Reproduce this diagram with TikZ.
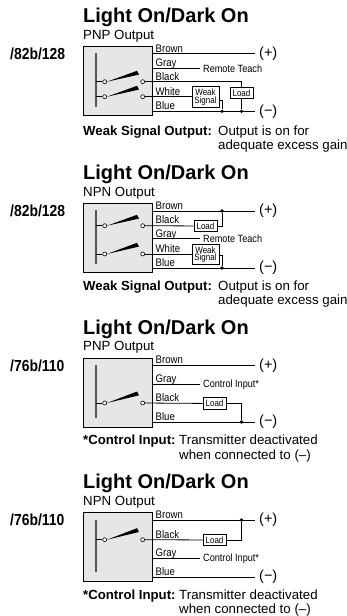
\documentclass[tikz,border=0pt]{standalone}
\usepackage{fontspec}
\setmainfont{Liberation Sans}
\newfontfamily\condfont[FakeStretch=0.87]{Liberation Sans}
\usetikzlibrary{positioning}
\definecolor{boxgray}{HTML}{E6E6E6}
\definecolor{bargray}{HTML}{555555}

\begin{document}
\begin{tikzpicture}[
    x=1pt, y=-1pt,
    title/.style={anchor=base west, inner sep=0, font=\fontsize{20}{20}\selectfont\bfseries},
    subtitle/.style={anchor=base west, inner sep=0, font=\fontsize{13.3}{13.3}\selectfont},
    code/.style={anchor=base west, inner sep=0, font=\condfont\fontsize{16}{16}\selectfont\bfseries},
    sensor/.style={draw, line width=1.2pt, fill=boxgray, anchor=north west, inner sep=0, minimum width=69pt, minimum height=69pt},
    bar/.style={bargray, line width=1.3pt},
    wire/.style={line width=0.8pt},
    blade/.style={fill=black},
    contact/.style={circle, draw, fill=white, line width=0.6pt, inner sep=0, minimum size=4pt},
    dot/.style={circle, fill=black, inner sep=0, minimum size=3.6pt},
    wirelabel/.style={anchor=base west, inner sep=0, font=\condfont\fontsize{11}{11}\selectfont},
    inputlabel/.style={anchor=west, inner ysep=0, inner xsep=3pt, font=\condfont\fontsize{10.5}{10.5}\selectfont},
    devbox/.style={draw, fill=white, line width=0.7pt, inner sep=0, align=center, font=\condfont\fontsize{9.2}{9.2}\selectfont},
    supply/.style={anchor=west, inner ysep=0, inner xsep=4pt, font=\fontsize{14.5}{14.5}\selectfont},
    note/.style={anchor=base west, inner sep=0, font=\fontsize{13.3}{13.3}\selectfont},
    notebold/.style={note, font=\fontsize{13.2}{13.2}\selectfont\bfseries}
]
    \useasboundingbox (0,0) rectangle (347,616);

    % first panel
    \node[title] (atitle) at (83,22.5) {Light On/Dark On};
    \node[subtitle] (asub) at (83,39) {PNP Output};
    \node[code] (acode) at (10,59.5) {/82b/128};
    \node[sensor] (abox) at (83,46) {};
    \coordinate (abartop) at (96,53);
    \coordinate (abarbot) at (96,107);
    \draw[bar] (abartop) -- (abarbot);
    \node[contact] (al1) at (104.7,81.7) {};
    \node[contact] (ar1) at (142.7,81.7) {};
    \node[contact] (al2) at (104.7,96.7) {};
    \node[contact] (ar2) at (142.7,96.7) {};
    \fill[blade] (al1.east) -- (137,70.8) -- (139,74.6) -- cycle;
    \fill[blade] (al2.east) -- (137,85.8) -- (139,89.6) -- cycle;
    \draw[wire] (al1) -- (96,81.7);
    \draw[wire] (al2) -- (96,96.7);
    \node[supply] (aplus) at (255,53.7) {(+)};
    \node[supply] (aminus) at (255,111.3) {(−)};
    \node[inputlabel] (ateach) at (200,68.5) {Remote Teach};
    \node[devbox, minimum width=27pt, minimum height=20.5pt] (aweak) at (205.5,97) {Weak\\[-1.5pt]Signal};
    \node[devbox, minimum width=23pt, minimum height=11pt] (aload) at (241.5,93) {Load};
    \coordinate (abrown) at (abox.east |- aplus);
    \coordinate (agray) at (abox.east |- ateach);
    \coordinate (ablue) at (abox.east |- aminus);
    \node[dot] (ad1) at (222,111.3) {};
    \node[dot] (ad2) at (241.5,111.3) {};
    \draw[wire] (abrown) -- (aplus);
    \draw[wire] (agray) -- (ateach);
    \draw[wire] (ablue) -- (aminus);
    \draw[wire] (ar1) -| (aload);
    \draw[wire] (aload) -- (ad2);
    \draw[wire] (ar2) -- (ar2 -| aweak.west);
    \draw[wire] (aweak.east |- 0,100) -| (ad1);
    \node[wirelabel] at (155.5,52) {Brown};
    \node[wirelabel] at (155.5,66.5) {Gray};
    \node[wirelabel] at (155.5,80) {Black};
    \node[wirelabel] at (155.5,95) {White};
    \node[wirelabel] at (155.5,109) {Blue};
    \node[notebold] at (83,135.5) {Weak Signal Output:};
    \node[note] at (218,135.5) {Output is on for};
    \node[note] at (218,149.5) {adequate excess gain};

    % second panel
    \begin{scope}[shift={(0,157)}]
    \node[title] (btitle) at (83,22.5) {Light On/Dark On};
    \node[subtitle] (bsub) at (83,39) {NPN Output};
    \node[code] (bcode) at (10,59.5) {/82b/128};
    \node[sensor] (bbox) at (83,46) {};
    \coordinate (bbartop) at (96,53);
    \coordinate (bbarbot) at (96,107);
    \draw[bar] (bbartop) -- (bbarbot);
    \node[contact] (bl1) at (104.7,68.7) {};
    \node[contact] (br1) at (142.7,68.7) {};
    \node[contact] (bl2) at (104.7,97) {};
    \node[contact] (br2) at (142.7,97) {};
    \fill[blade] (bl1.east) -- (137,57.8) -- (139,61.6) -- cycle;
    \fill[blade] (bl2.east) -- (137,85.8) -- (139,89.6) -- cycle;
    \draw[wire] (bl1) -- (96,68.7);
    \draw[wire] (bl2) -- (96,97);
    \node[supply] (bplus) at (255,54) {(+)};
    \node[supply] (bminus) at (255,111) {(−)};
    \node[inputlabel] (bteach) at (200,81.7) {Remote Teach};
    \node[devbox, minimum width=23pt, minimum height=11pt] (bload) at (205.5,69) {Load};
    \node[devbox, minimum width=27pt, minimum height=20.5pt] (bweak) at (205.5,97.5) {Weak\\[-1.5pt]Signal};
    \coordinate (bbrown) at (bbox.east |- bplus);
    \coordinate (bgray) at (bbox.east |- bteach);
    \coordinate (bblue) at (bbox.east |- bminus);
    \node[dot] (bd1) at (222,54) {};
    \node[dot] (bd2) at (222,111) {};
    \draw[wire] (bbrown) -- (bplus);
    \draw[wire] (bgray) -- (bteach);
    \draw[wire] (bblue) -- (bminus);
    \draw[wire] (br1) -- (bload);
    \draw[wire] (bload) -| (bd1);
    \draw[wire] (br2) -- (br2 -| bweak.west);
    \draw[wire] (bweak.east |- 0,98) -| (bd2);
    \node[wirelabel] at (155.5,52) {Brown};
    \node[wirelabel] at (155.5,66) {Black};
    \node[wirelabel] at (155.5,80) {Gray};
    \node[wirelabel] at (155.5,95) {White};
    \node[wirelabel] at (155.5,109) {Blue};
    \node[notebold] at (83,133.5) {Weak Signal Output:};
    \node[note] at (218,133.5) {Output is on for};
    \node[note] at (218,147.5) {adequate excess gain};
    \end{scope}

    % third panel
    \begin{scope}[shift={(0,311.5)}]
    \node[title] (ctitle) at (83,22.5) {Light On/Dark On};
    \node[subtitle] (csub) at (83,39) {PNP Output};
    \node[code] (ccode) at (10,59.5) {/76b/110};
    \node[sensor] (cbox) at (83,46) {};
    \coordinate (cbartop) at (96,53.5);
    \coordinate (cbarbot) at (96,106);
    \draw[bar] (cbartop) -- (cbarbot);
    \node[contact] (cl1) at (104.7,91.5) {};
    \node[contact] (cr1) at (142.7,91.5) {};
    \fill[blade] (cl1.east) -- (137,80) -- (139,83.8) -- cycle;
    \draw[wire] (cl1) -- (96,91.5);
    \node[supply] (cplus) at (255,53.8) {(+)};
    \node[supply] (cminus) at (255,110.5) {(−)};
    \node[inputlabel] (cinput) at (200,72.8) {Control Input*};
    \node[devbox, minimum width=23pt, minimum height=11.5pt] (cload) at (214.5,92) {Load};
    \coordinate (cbrown) at (cbox.east |- cplus);
    \coordinate (cgray) at (cbox.east |- cinput);
    \coordinate (cblue) at (cbox.east |- cminus);
    \node[dot] (cd1) at (241.5,110.5) {};
    \draw[wire] (cbrown) -- (cplus);
    \draw[wire] (cgray) -- (cinput);
    \draw[wire] (cblue) -- (cminus);
    \draw[wire] (cr1) -- (cload);
    \draw[wire] (cload) -| (cd1);
    \node[wirelabel] at (155.5,52) {Brown};
    \node[wirelabel] at (155.5,71) {Gray};
    \node[wirelabel] at (155.5,90) {Black};
    \node[wirelabel] at (155.5,108.5) {Blue};
    \node[notebold] at (83,133) {*Control Input:};
    \node[note] at (179,133) {Transmitter deactivated};
    \node[note] at (179,147.5) {when connected to (–)};
    \end{scope}

    % fourth panel
    \begin{scope}[shift={(0,466)}]
    \node[title] (dtitle) at (83,22.5) {Light On/Dark On};
    \node[subtitle] (dsub) at (83,39) {NPN Output};
    \node[code] (dcode) at (10,59.5) {/76b/110};
    \node[sensor] (dbox) at (83,46) {};
    \coordinate (dbartop) at (96,53.5);
    \coordinate (dbarbot) at (96,106);
    \draw[bar] (dbartop) -- (dbarbot);
    \node[contact] (dl1) at (104.7,73.7) {};
    \node[contact] (dr1) at (142.7,73.7) {};
    \fill[blade] (dl1.east) -- (137,62.2) -- (139,66) -- cycle;
    \draw[wire] (dl1) -- (96,73.7);
    \node[supply] (dplus) at (255,54) {(+)};
    \node[supply] (dminus) at (255,111) {(−)};
    \node[inputlabel] (dinput) at (200,92.3) {Control Input*};
    \node[devbox, minimum width=23pt, minimum height=11.5pt] (dload) at (214.5,74) {Load};
    \coordinate (dbrown) at (dbox.east |- dplus);
    \coordinate (dgray) at (dbox.east |- dinput);
    \coordinate (dblue) at (dbox.east |- dminus);
    \node[dot] (dd1) at (241.5,54) {};
    \draw[wire] (dbrown) -- (dplus);
    \draw[wire] (dgray) -- (dinput);
    \draw[wire] (dblue) -- (dminus);
    \draw[wire] (dr1) -- (dload);
    \draw[wire] (dload) -| (dd1);
    \node[wirelabel] at (155.5,52) {Brown};
    \node[wirelabel] at (155.5,72) {Black};
    \node[wirelabel] at (155.5,90) {Gray};
    \node[wirelabel] at (155.5,109) {Blue};
    \node[notebold] at (83,133.5) {*Control Input:};
    \node[note] at (179,133.5) {Transmitter deactivated};
    \node[note] at (179,147) {when connected to (–)};
    \end{scope}
\end{tikzpicture}
\end{document}
